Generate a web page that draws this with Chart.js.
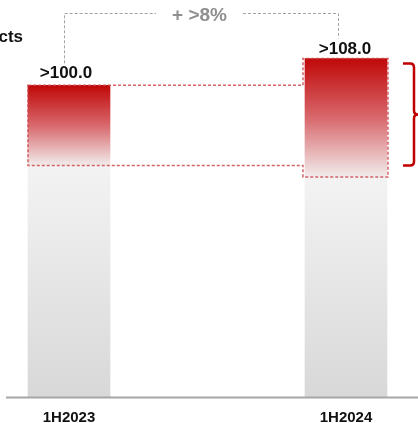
<!DOCTYPE html>
<html>
<head>
<meta charset="utf-8">
<script src="https://cdn.jsdelivr.net/npm/chart.js@4"></script>
<style>
  html, body { margin: 0; padding: 0; background: #ffffff; }
  #wrap { width: 418px; height: 423px; }
</style>
</head>
<body>
<div id="wrap"><canvas id="c" width="418" height="423"></canvas></div>
<script>
// ---- data ----
const categories = ['1H2023', '1H2024'];
const baseValues = [74.3, 70.6];    // grey lower part of each bar
const topValues = [25.7, 38.0];     // red highlighted upper part
const valueLabels = ['>100.0', '>108.0'];
const growthLabel = '+ >8%';
const titleFragment = 'cts';

const FONT = '"Liberation Sans", Arial, sans-serif';

function barGradient(c, stops, lowerArr, upperArr) {
  const chart = c.chart;
  const area = chart.chartArea;
  const i = c.dataIndex;
  if (!area || i === undefined) return stops[0][1];
  const y = chart.scales.y;
  const yTop = y.getPixelForValue(lowerArr[i] + upperArr[i]);
  const yBot = y.getPixelForValue(lowerArr[i]);
  const g = chart.ctx.createLinearGradient(0, yTop, 0, yBot);
  stops.forEach(s => g.addColorStop(s[0], s[1]));
  return g;
}

const zeros = baseValues.map(() => 0);

const overlay = {
  id: 'overlay',
  afterDatasetsDraw(chart) {
    const ctx = chart.ctx;
    const area = chart.chartArea;
    const topMeta = chart.getDatasetMeta(1);
    const b1 = topMeta.data[0], b2 = topMeta.data[1];
    const w1 = b1.width, w2 = b2.width;
    const L1 = b1.x - w1 / 2;
    const L2 = b2.x - w2 / 2, R2 = b2.x + w2 / 2;

    ctx.save();
    // baseline
    ctx.strokeStyle = '#a6a6a6';
    ctx.lineWidth = 2;
    ctx.beginPath();
    ctx.moveTo(6, area.bottom + 0.5);
    ctx.lineTo(chart.width, area.bottom + 0.5);
    ctx.stroke();

    // dashed outline around the red parts
    ctx.strokeStyle = 'rgba(205,70,76,0.85)';
    ctx.lineWidth = 1.5;
    ctx.setLineDash([3, 2]);
    const sx = L2 - 2;
    ctx.beginPath();
    ctx.moveTo(L1, b1.y);
    ctx.lineTo(sx, b1.y);
    ctx.lineTo(sx, b2.y);
    ctx.lineTo(R2 + 1, b2.y);
    ctx.lineTo(R2 + 1, b2.base);
    ctx.lineTo(sx, b2.base);
    ctx.lineTo(sx, b1.base);
    ctx.lineTo(L1, b1.base);
    ctx.closePath();
    ctx.stroke();

    // growth bracket
    ctx.strokeStyle = '#a3a3a3';
    ctx.lineWidth = 1;
    ctx.setLineDash([3, 2]);
    const bx1 = Math.round(b1.x - 5) + 0.5, bx2 = Math.round(b2.x - 8) + 0.5;
    const by = 13.5;
    ctx.font = 'bold 19px ' + FONT;
    const gw = ctx.measureText(growthLabel).width;
    const gx = (bx1 + bx2) / 2 - 2;
    ctx.beginPath();
    ctx.moveTo(bx1, b1.y - 22);
    ctx.lineTo(bx1, by);
    ctx.lineTo(gx - gw / 2 - 16, by);
    ctx.moveTo(gx + gw / 2 + 16, by);
    ctx.lineTo(bx2, by);
    ctx.lineTo(bx2, b2.y - 20);
    ctx.stroke();
    ctx.setLineDash([]);
    ctx.fillStyle = '#8f8f8f';
    ctx.textAlign = 'center';
    ctx.textBaseline = 'middle';
    ctx.fillText(growthLabel, gx, 16);

    // value labels
    ctx.fillStyle = '#111111';
    ctx.font = 'bold 17px ' + FONT;
    ctx.textBaseline = 'alphabetic';
    ctx.fillText(valueLabels[0], b1.x - 3, b1.y - 7);
    ctx.fillText(valueLabels[1], b2.x - 1, b2.y - 5);

    // title fragment (cut off at left)
    ctx.textAlign = 'right';
    ctx.font = 'bold 17px ' + FONT;
    ctx.fillText(titleFragment, 23, 42);

    // red curly brace
    ctx.strokeStyle = '#c00000';
    ctx.lineWidth = 2.5;
    const yT = b2.y + 5, yB = b1.base, yM = (yT + yB) / 2;
    const x0 = R2 + 16, xv = R2 + 27, xt = R2 + 31;
    ctx.beginPath();
    ctx.moveTo(x0, yT);
    ctx.lineTo(xv - 4, yT);
    ctx.quadraticCurveTo(xv, yT, xv, yT + 4);
    ctx.lineTo(xv, yM - 4);
    ctx.quadraticCurveTo(xv, yM, xt, yM);
    ctx.quadraticCurveTo(xv, yM, xv, yM + 4);
    ctx.lineTo(xv, yB - 4);
    ctx.quadraticCurveTo(xv, yB, xv - 4, yB);
    ctx.lineTo(x0, yB);
    ctx.stroke();
    ctx.restore();
  }
};

new Chart(document.getElementById('c'), {
  type: 'bar',
  data: {
    labels: categories,
    datasets: [
      {
        label: 'base',
        data: baseValues,
        clip: false,
        backgroundColor: c => barGradient(c, [[0, '#f3f3f3'], [1, '#d8d8d8']], zeros, baseValues),
        borderWidth: 0
      },
      {
        label: 'highlight',
        data: topValues,
        clip: false,
        backgroundColor: c => barGradient(c, [[0, '#c00808'], [0.5, '#d8686c'], [1, '#f2ecec']], baseValues, topValues),
        borderWidth: 0
      }
    ]
  },
  options: {
    responsive: false,
    devicePixelRatio: 1,
    animation: false,
    layout: { padding: { left: 69, right: 72, top: 23, bottom: 0 } },
    plugins: { legend: { display: false }, tooltip: { enabled: false } },
    datasets: { bar: { barThickness: 82 } },
    scales: {
      x: {
        stacked: true,
        offset: false,
        grid: { display: false },
        border: { display: false },
        ticks: {
          color: '#111111',
          font: { family: FONT, weight: 'bold', size: 15 },
          padding: 4,
          maxRotation: 0,
          autoSkip: false
        },
        afterFit: s => { s.height = 26; }
      },
      y: {
        stacked: true,
        display: false,
        min: 0,
        max: 120
      }
    }
  },
  plugins: [overlay]
});
</script>
</body>
</html>
